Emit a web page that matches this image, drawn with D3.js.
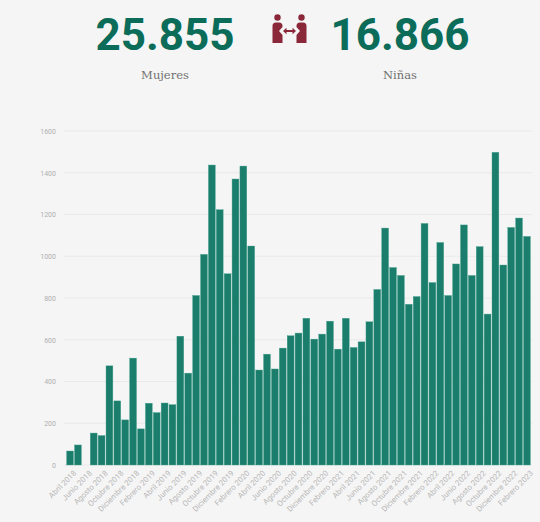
<!DOCTYPE html>
<html>
<head>
<meta charset="utf-8">
<script src="https://cdn.jsdelivr.net/npm/d3@7"></script>
<style>
  html, body { margin: 0; padding: 0; background: #f5f5f5; }
  svg { display: block; }
</style>
</head>
<body>
<div id="chart"><svg></svg></div>
<script>
const width = 540;
const height = 522;

// totales de la cabecera
const headlineValues = ['25.855', '16.866'];
const headlineLabels = ['Mujeres', 'Niñas'];

// meses abril 2018 - febrero 2023
const monthNames = ['Enero', 'Febrero', 'Marzo', 'Abril', 'Mayo', 'Junio', 'Julio',
  'Agosto', 'Septiembre', 'Octubre', 'Noviembre', 'Diciembre'];
const months = [];
for (let y = 2018; y <= 2023; y++) {
  for (let m = 0; m < 12; m++) {
    if (y === 2018 && m < 3) continue;
    if (y === 2023 && m > 1) continue;
    months.push(monthNames[m] + ' ' + y);
  }
}

const values = [
  67, 96, 0, 153, 141, 475, 307, 216, 512,
  173, 296, 251, 297, 289, 617, 440, 812, 1009, 1437, 1223, 916,
  1370, 1432, 1049, 455, 531, 460, 560, 619, 632, 703, 603, 627,
  689, 555, 703, 563, 590, 686, 841, 1135, 946, 908, 770, 807,
  1157, 874, 1066, 812, 963, 1150, 908, 1046, 723, 1498, 958, 1138,
  1183, 1095
];

const yTicks = [0, 200, 400, 600, 800, 1000, 1200, 1400, 1600];

const svg = d3.select('#chart').select('svg')
    .attr('width', width)
    .attr('height', height)
    .attr('viewBox', `0 0 ${width} ${height}`);

svg.append('rect')
    .attr('width', width)
    .attr('height', height)
    .attr('fill', '#f5f5f5');

/* cabecera */
const head = svg.append('g');
const headX = [165, 400];

head.selectAll('text.num')
    .data(headlineValues)
    .join('text')
    .attr('class', 'num')
    .attr('x', (d, i) => headX[i])
    .attr('y', 50)
    .attr('text-anchor', 'middle')
    .style('font-family', 'Roboto, sans-serif')
    .style('font-weight', 700)
    .style('font-size', '44px')
    .style('fill', '#0b6c5a')
    .text(d => d);

head.selectAll('text.lab')
    .data(headlineLabels)
    .join('text')
    .attr('class', 'lab')
    .attr('x', (d, i) => headX[i])
    .attr('y', 79)
    .attr('text-anchor', 'middle')
    .style('font-family', '"DejaVu Serif", serif')
    .style('font-size', '11.5px')
    .style('fill', '#707070')
    .text(d => d);

// icono: dos personas con flecha
const icon = svg.append('g').attr('fill', '#8a2739');
const person = function(cx, dir) {
  icon.append('circle').attr('cx', cx).attr('cy', 17.5).attr('r', 3.2);
  // cuerpo
  const x0 = cx - 5 * dir, x1 = cx + 5 * dir;
  icon.append('path').attr('d',
    `M${x0},43 L${x0},26 Q${x0},22.5 ${cx - 1.5 * dir},22.5 L${cx + 1.5 * dir},22.5 ` +
    `Q${x1},22.5 ${x1},26 L${x1},27 L${cx + 1.5 * dir},31 L${x1},35 L${x1},43 Z`);
};
person(277.5, 1);
person(301.5, -1);
icon.append('path')
    .attr('d', 'M283,31 L286.5,27.8 L286.5,30 L292.5,30 L292.5,27.8 L296,31 L292.5,34.2 L292.5,32 L286.5,32 L286.5,34.2 Z');

/* grafico */
const x = d3.scaleBand()
    .domain(months)
    .range([66, 531])
    .paddingInner(0.13)
    .paddingOuter(0.08);

const y = d3.scaleLinear()
    .domain([0, 1600])
    .range([465, 131]);

const grid = svg.append('g');
grid.selectAll('line')
    .data(yTicks)
    .join('line')
    .attr('x1', 64)
    .attr('x2', 532)
    .attr('y1', d => y(d))
    .attr('y2', d => y(d))
    .attr('stroke', '#e9e9e9')
    .attr('stroke-width', 1);

const yAxis = d3.axisLeft(y)
    .tickValues(yTicks)
    .tickFormat(d3.format('d'))
    .tickSize(0)
    .tickPadding(6);

const yg = svg.append('g')
    .attr('transform', 'translate(62,0)')
    .call(yAxis);
yg.select('.domain').remove();
yg.selectAll('text')
    .style('font-family', 'Roboto, sans-serif')
    .style('font-size', '7px')
    .style('fill', '#b0b0b0');

svg.append('g')
    .selectAll('rect')
    .data(values)
    .join('rect')
    .attr('x', (d, i) => x(months[i]))
    .attr('y', d => y(d))
    .attr('width', x.bandwidth())
    .attr('height', d => y(0) - y(d))
    .attr('fill', '#1b7d6b')
    .attr('stroke', '#4aa391')
    .attr('stroke-width', 0.4);

// etiquetas cada dos meses
const xLabels = months.filter((d, i) => i % 2 === 0);
const xAxis = d3.axisBottom(x)
    .tickValues(xLabels)
    .tickSize(0)
    .tickPadding(4);

const xg = svg.append('g')
    .attr('transform', 'translate(0,467)')
    .call(xAxis);
xg.select('.domain').remove();
xg.selectAll('text')
    .attr('text-anchor', 'end')
    .attr('dy', '0.35em')
    .attr('transform', 'translate(2,2) rotate(-45)')
    .style('font-family', 'Roboto, sans-serif')
    .style('font-size', '7.8px')
    .style('fill', '#b8b8b8');
</script>
</body>
</html>
